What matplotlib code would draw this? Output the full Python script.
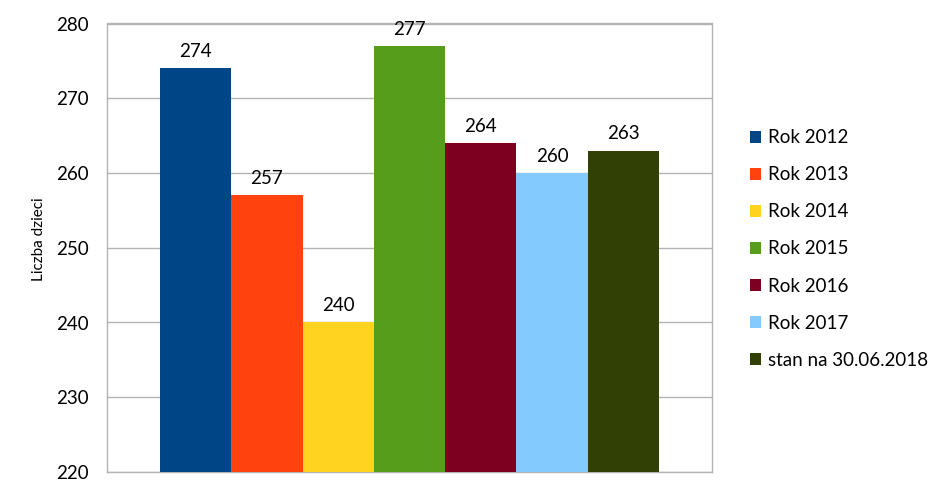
import matplotlib
matplotlib.use("Agg")
import matplotlib.pyplot as plt
from matplotlib.patches import Patch

labels = ["Rok 2012", "Rok 2013", "Rok 2014", "Rok 2015", "Rok 2016", "Rok 2017", "stan na 30.06.2018"]
values = [274, 257, 240, 277, 264, 260, 263]
colors = ["#004586", "#ff420e", "#ffd320", "#579d1c", "#7e0021", "#83caff", "#314004"]
y_ticks = [220, 230, 240, 250, 260, 270, 280]

plt.rcParams['font.family'] = ['Lato', 'DejaVu Sans']

fig = plt.figure(figsize=(9.45, 5.0), dpi=100)
ax = fig.add_axes([107/945, 1-472/500, (712-107)/945, (472-23.5)/500])

x = list(range(len(values)))
ax.bar(x, values, width=1.0, color=colors, bottom=0, zorder=3)
for xi, v in zip(x, values):
    ax.annotate(str(v), (xi, v), xytext=(0, 6), textcoords="offset points",
                ha="center", va="bottom", fontsize=13.5, color="#000000")

ax.set_ylim(220, 280)
ax.set_yticks(y_ticks)
ax.set_xlim(-0.5-0.743, 6.5+0.743)
ax.set_xticks([])
ax.tick_params(axis='y', length=0, labelsize=13.5, pad=13)
ax.grid(axis='y', color="#b3b3b3", linewidth=1.0, zorder=0)
for s in ax.spines.values():
    s.set_color("#b3b3b3")
    s.set_linewidth(1.0)
ax.set_ylabel("Liczba dzieci", fontsize=11, va="center")
ax.yaxis.set_label_coords(-0.112, 0.52)

handles = [Patch(facecolor=c, edgecolor='none') for c in colors]
leg = fig.legend(handles, labels, loc="center left", bbox_to_anchor=(733/945, 1-249/500),
                 frameon=False, fontsize=13.5, handlelength=0.6, handleheight=0.6,
                 handletextpad=0.35, labelspacing=1.07)

fig.savefig("out.png", dpi=100)
